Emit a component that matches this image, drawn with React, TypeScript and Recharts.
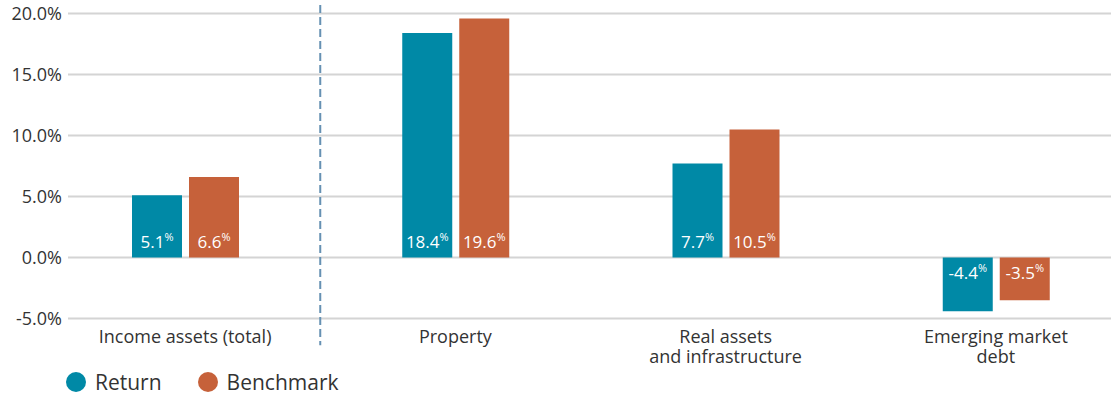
import React from 'react';
import { BarChart, Bar, XAxis, YAxis, CartesianGrid, Legend, LabelList, ReferenceLine } from 'recharts';

const categories = ['Income assets (total)', 'Property', 'Real assets and infrastructure', 'Emerging market debt'];
const categoryLines = [['Income assets (total)'], ['Property'], ['Real assets', 'and infrastructure'], ['Emerging market', 'debt']];
const returnValues = [5.1, 18.4, 7.7, -4.4];
const benchmarkValues = [6.6, 19.6, 10.5, -3.5];
const yTicks = [-5, 0, 5, 10, 15, 20];
const seriesNames = ['Return', 'Benchmark'];
const dividerCategory = 'Property';
const dividerSpan = [20.7, -7.2];

const COLORS = ['#0089A6', '#C6613A'];
const FONT = '"Open Sans", "Noto Sans", sans-serif';
const TEXT = '#333333';

const data = categories.map((c, i) => ({ category: c, ret: returnValues[i], bench: benchmarkValues[i] }));

const XTick = (props: any) => {
  const { x, y, payload, index } = props;
  const lines = categoryLines[index] ?? [payload.value];
  return (
    <g>
      {lines.map((l: string, i: number) => (
        <text key={i} x={x} y={y + 24.5 + i * 20} textAnchor="middle" fill={TEXT} fontFamily={FONT} fontSize={18}>
          {l}
        </text>
      ))}
    </g>
  );
};

const ValueLabel = (props: any) => {
  const { x, y, width, height, value } = props;
  const v = Number(value);
  const top = Math.min(y, y + height);
  const bottom = Math.max(y, y + height);
  const cx = x + width / 2;
  const ty = v >= 0 ? bottom - 10 : top + 21.5;
  return (
    <text x={cx} y={ty} textAnchor="middle" fill="#ffffff" fontFamily={FONT} fontSize={17}>
      {v.toFixed(1)}
      <tspan fontSize={11} dy={-7}>%</tspan>
    </text>
  );
};

const LegendContent = () => (
  <div style={{ display: 'flex', alignItems: 'center', paddingLeft: 66, paddingTop: 9, fontFamily: FONT, fontSize: 21, color: TEXT, height: 38, boxSizing: 'border-box' }}>
    {seriesNames.map((n, i) => (
      <span key={n} style={{ display: 'flex', alignItems: 'center', marginRight: 36 }}>
        <span style={{ display: 'inline-block', width: 20, height: 20, borderRadius: 10, background: COLORS[i], marginRight: 9 }} />
        {n}
      </span>
    ))}
  </div>
);

export default function App() {
  return (
    <div style={{ position: 'absolute', left: 0, top: 0, width: 1114, height: 397, background: '#fff' }}>
      <BarChart
        width={1114}
        height={397}
        data={data}
        margin={{ top: 13.5, right: 3, bottom: 0, left: 0 }}
        barSize={50}
        barGap={7}
        style={{ fontFamily: FONT }}
      >
        <CartesianGrid vertical={false} stroke="#d4d4d4" strokeWidth={2} />
        <XAxis
          dataKey="category"
          axisLine={false}
          tickLine={false}
          tickSize={0}
          tickMargin={0}
          height={40}
          interval={0}
          padding={{ left: -18, right: -20 }}
          tick={<XTick />}
        />
        <YAxis
          domain={[-5, 20]}
          ticks={yTicks}
          width={68}
          axisLine={false}
          tickLine={false}
          tickSize={0}
          tickMargin={6}
          tickFormatter={(v: number) => `${v.toFixed(1)}%`}
          tick={{ fill: TEXT, fontSize: 18, fontFamily: FONT }}
        />
        <Legend verticalAlign="bottom" align="left" height={38.5} content={<LegendContent />} />
        <ReferenceLine
          segment={[{ x: dividerCategory, y: dividerSpan[0] }, { x: dividerCategory, y: dividerSpan[1] }]}
          position="start"
          ifOverflow="visible"
          stroke="#6691b3"
          strokeWidth={2}
          strokeDasharray="8 4"
        />
        <Bar dataKey="ret" name={seriesNames[0]} fill={COLORS[0]} isAnimationActive={false}>
          <LabelList dataKey="ret" content={<ValueLabel />} />
        </Bar>
        <Bar dataKey="bench" name={seriesNames[1]} fill={COLORS[1]} isAnimationActive={false}>
          <LabelList dataKey="bench" content={<ValueLabel />} />
        </Bar>
      </BarChart>
    </div>
  );
}
